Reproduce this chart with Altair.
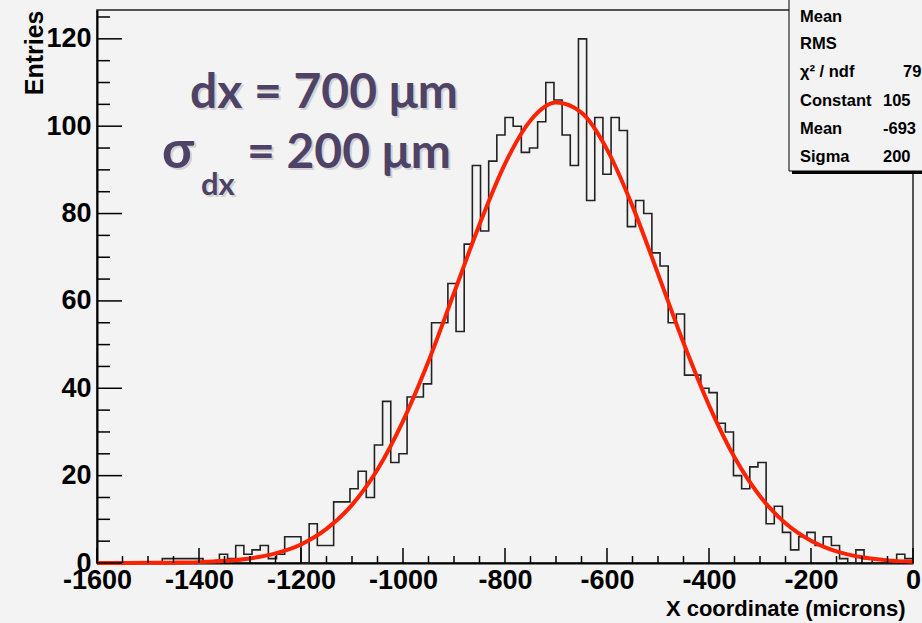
import altair as alt
import pandas as pd

# ---------------- data ----------------
# histogram: 100 bins of 16 microns from -1600 to 0
counts = [0, 0, 0, 0, 0, 0, 0, 0, 1, 1,
          1, 1, 1, 0, 0, 2, 1, 4, 2, 3,
          4, 1, 2, 6, 6, 0, 9, 4, 4, 14,
          14, 17, 21, 15, 27, 37, 23, 25, 38, 38,
          41, 55, 55, 64, 53, 73, 91, 76, 92, 98,
          102, 100, 94, 95, 101, 110, 106, 98, 91, 120,
          83, 102, 89, 102, 99, 77, 83, 80, 71, 68,
          55, 57, 43, 43, 40, 39, 32, 30, 20, 17,
          22, 23, 9, 13, 7, 3, 6, 7, 4, 6,
          4, 1, 0, 3, 1, 0, 0, 0, 2, 1]
hist_start = -1600
hist_bin = 16

# red fit curve, read at these x positions
fit_x = [-1600, -1550, -1500, -1450, -1400, -1350, -1300, -1250, -1200, -1150,
         -1100, -1050, -1000, -950, -900, -850, -800, -750, -700, -650,
         -600, -550, -500, -450, -400, -350, -300, -250, -200, -150,
         -100, -50, 0]
fit_y = [0.0, 0.01, 0.03, 0.08, 0.2, 0.5, 1.05, 2.2, 4.25, 7.8,
         13.3, 21.4, 32.5, 46.2, 61.8, 77.5, 91.4, 101.3, 105.4, 103.1,
         94.7, 81.7, 66.2, 50.4, 36.1, 24.2, 15.3, 9.1, 5.1, 2.65,
         1.3, 0.6, 0.26]

x_major = [-1600, -1400, -1200, -1000, -800, -600, -400, -200, 0]
x_minor = [-1550, -1500, -1450, -1350, -1300, -1250, -1150, -1100, -1050,
           -950, -900, -850, -750, -700, -650, -550, -500, -450,
           -350, -300, -250, -150, -100, -50]
y_major = [0, 20, 40, 60, 80, 100, 120]
y_minor = [5, 10, 15, 25, 30, 35, 45, 50, 55, 65, 70, 75, 85, 90, 95,
           105, 110, 115, 125]

stat_names = ["Mean", "RMS", "χ² / ndf", "Constant", "Mean", "Sigma"]
stat_values = ["", "", "79", "105", "-693", "200"]

# ---------------- chart ----------------
W, H = 816, 553
FONT = "Liberation Sans"
BG = "#f3f3f3"
PURPLE = "#4e4366"
LABEL_EXPR = "datum.value < 0 ? '-' + format(-datum.value, 'd') : format(datum.value, 'd')"

edges = [hist_start + hist_bin * i for i in range(len(counts) + 1)]
hist_df = pd.DataFrame({"x": edges, "n": counts + [counts[-1]]})
fit_df = pd.DataFrame({"x": fit_x, "y": fit_y})

xs = alt.Scale(domain=[-1600, 0], nice=False, zero=False)
ys = alt.Scale(domain=[0, 126.6], nice=False)

x_axis = alt.Axis(
    values=x_major, ticks=False, grid=False, labelFlush=False,
    labelExpr=LABEL_EXPR,
    labelFont=FONT, labelFontWeight="bold", labelFontSize=27,
    labelColor="black", labelPadding=4,
    domainColor="black", domainWidth=2,
    title="X coordinate (microns)", titleFont=FONT, titleFontWeight="bold",
    titleFontSize=22, titleColor="black", titleAnchor="end",
    titleAlign="right", titleX=808, titleY=52, titleBaseline="alphabetic")
y_axis = alt.Axis(
    values=y_major, ticks=False, grid=False,
    labelExpr=LABEL_EXPR,
    labelFont=FONT, labelFontWeight="bold", labelFontSize=27,
    labelColor="black", labelPadding=6,
    domainColor="black", domainWidth=2,
    title="Entries", titleFont=FONT, titleFontWeight="bold",
    titleFontSize=25, titleColor="black", titleAngle=270,
    titleAlign="right", titleAnchor="end", titleX=-55, titleY=0,
    titleBaseline="alphabetic")

hist = alt.Chart(hist_df).mark_line(
    interpolate="step-after", color="#222222", strokeWidth=1.6
).encode(
    x=alt.X("x:Q", scale=xs, axis=x_axis),
    y=alt.Y("n:Q", scale=ys, axis=y_axis),
)

fit = alt.Chart(fit_df).mark_line(
    interpolate="monotone", color="#ff2200", strokeWidth=4
).encode(
    x=alt.X("x:Q", scale=xs, axis=x_axis),
    y=alt.Y("y:Q", scale=ys, axis=y_axis),
)

xmaj = alt.Chart(pd.DataFrame({"x": x_major})).mark_rule(color="black", strokeWidth=1.5).encode(
    x=alt.X("x:Q", scale=xs, axis=x_axis), y=alt.value(H), y2=alt.value(H - 15))
xmin = alt.Chart(pd.DataFrame({"x": x_minor})).mark_rule(color="black", strokeWidth=1.5).encode(
    x=alt.X("x:Q", scale=xs, axis=x_axis), y=alt.value(H), y2=alt.value(H - 7))
ymaj = alt.Chart(pd.DataFrame({"n": y_major})).mark_rule(color="black", strokeWidth=1.5).encode(
    y=alt.Y("n:Q", scale=ys, axis=y_axis), x=alt.value(0), x2=alt.value(25))
ymin = alt.Chart(pd.DataFrame({"n": y_minor})).mark_rule(color="black", strokeWidth=1.5).encode(
    y=alt.Y("n:Q", scale=ys, axis=y_axis), x=alt.value(0), x2=alt.value(13))

one = pd.DataFrame({"a": [0]})

box_shadow = alt.Chart(one).mark_rect(color="black").encode(
    x=alt.value(695), x2=alt.value(920), y=alt.value(-27), y2=alt.value(164))
box = alt.Chart(one).mark_rect(fill=BG, stroke="black", strokeWidth=1).encode(
    x=alt.value(692), x2=alt.value(917), y=alt.value(-30), y2=alt.value(161))

layers = [hist, fit, xmaj, xmin, ymaj, ymin, box_shadow, box]

row_y = [7, 34, 62, 91, 119, 147]
val_x = [0, 0, 806, 786, 786, 786]
for i, name in enumerate(stat_names):
    layers.append(alt.Chart(one).mark_text(
        text=name, font=FONT, fontWeight="bold", fontSize=16.5, color="black",
        align="left", baseline="middle").encode(x=alt.value(703), y=alt.value(row_y[i])))
    if stat_values[i]:
        layers.append(alt.Chart(one).mark_text(
            text=stat_values[i], font=FONT, fontWeight="bold", fontSize=16.5, color="black",
            align="left", baseline="middle").encode(x=alt.value(val_x[i]), y=alt.value(row_y[i])))

# annotation text with soft shadow
ann = [
    ("dx = 700 μm", 93, 98, 48),
    ("σ", 65, 158, 52),
    ("dx", 104, 185, 31),
    ("= 200 μm", 150, 158, 48),
]
for txt, ax, ay, fs in ann:
    layers.append(alt.Chart(one).mark_text(
        text=txt, font="Lato", fontWeight="bold", fontSize=fs, color="#d2d2d2",
        align="left", baseline="alphabetic").encode(x=alt.value(ax + 2), y=alt.value(ay + 2)))
    layers.append(alt.Chart(one).mark_text(
        text=txt, font="Lato", fontWeight="bold", fontSize=fs, color=PURPLE,
        align="left", baseline="alphabetic").encode(x=alt.value(ax), y=alt.value(ay)))

chart = alt.layer(*layers).properties(
    width=W, height=H,
    autosize=alt.AutoSizeParams(type="none"),
    padding={"left": 97, "top": 10, "right": 9, "bottom": 60},
    background=BG,
).configure_view(
    stroke="#222222", strokeWidth=1.5, fill=BG
)

chart.save("out.html", embed_options={"renderer": "svg", "actions": False})
